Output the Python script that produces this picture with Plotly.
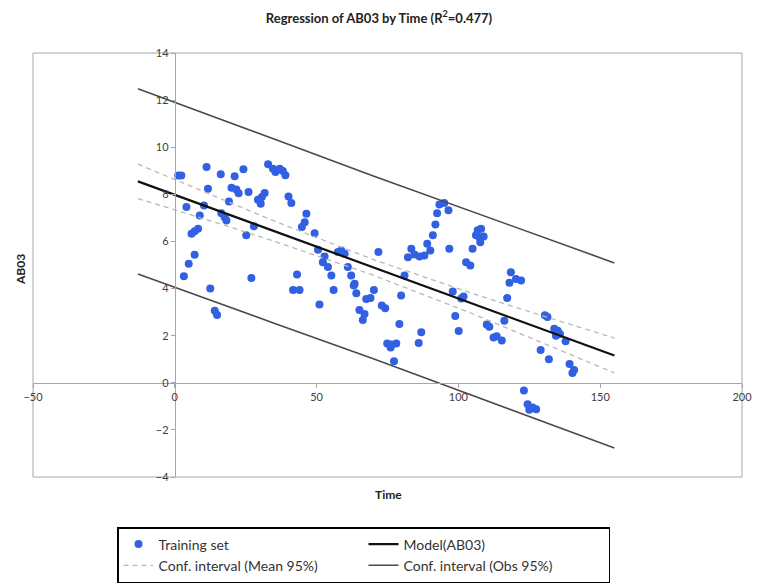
import plotly.graph_objects as go

# ---- data ----
time_vals = [1.2, 2.3, 11.2, 16.2, 21.1, 24.2, 11.7, 20.0, 21.7, 22.5, 26.0, 19.1,
             32.9, 34.6, 35.5, 37.0, 38.1, 39.0, 31.7, 30.7, 29.3, 30.3, 40.1, 41.1,
             4.1, 8.8, 10.3, 16.4, 17.6, 18.2, 8.2, 7.0, 5.9, 27.9, 25.2, 45.8, 44.8,
             46.4, 7.0, 4.9, 3.2, 27.0, 43.1, 12.5, 14.1, 14.9, 41.7, 44.0, 49.3, 50.5,
             52.8, 52.2, 54.0, 55.2, 57.5, 58.7, 59.9, 61.0, 62.2, 63.4, 71.8, 81.0,
             82.2, 83.4, 84.5, 86.3, 88.0, 90.1, 89.0, 91.0, 91.9, 92.5, 93.3, 95.0,
             96.5, 96.8, 106.8, 108.0, 106.2, 107.4, 108.9, 107.7, 105.0, 102.7, 104.2,
             118.5, 120.3, 122.1, 118.0, 117.2, 98.0, 101.0, 101.8, 98.9, 100.1, 110.0,
             110.9, 116.2, 112.4, 113.5, 115.3, 130.5, 131.4, 133.8, 135.0, 135.8, 134.4,
             137.8, 129.0, 131.9, 139.2, 140.8, 140.2, 123.1, 124.4, 126.2, 127.4, 125.0,
             51.0, 56.0, 63.1, 64.0, 67.5, 69.0, 70.2, 65.1, 66.9, 66.3, 73.0, 74.2,
             79.8, 79.2, 86.9, 86.0, 74.9, 76.5, 78.1, 76.1, 77.3]
ab03_vals = [8.8, 8.8, 9.16, 8.85, 8.77, 9.06, 8.24, 8.28, 8.2, 8.05, 8.1, 7.7,
             9.28, 9.09, 8.95, 9.09, 8.99, 8.81, 8.06, 7.89, 7.77, 7.6, 7.91, 7.63,
             7.46, 7.1, 7.53, 7.2, 7.03, 6.89, 6.54, 6.43, 6.33, 6.64, 6.26, 6.82, 6.61,
             7.18, 5.43, 5.05, 4.52, 4.45, 4.6, 4.0, 3.06, 2.88, 3.94, 3.94, 6.35, 5.65,
             5.36, 5.12, 4.91, 4.55, 5.55, 5.62, 5.48, 4.91, 4.55, 4.2, 5.55, 4.55,
             5.33, 5.69, 5.45, 5.36, 5.4, 5.62, 5.9, 6.26, 6.72, 7.2, 7.57, 7.63,
             7.32, 5.69, 6.47, 6.54, 6.26, 6.18, 6.21, 5.97, 5.69, 5.12, 4.98,
             4.69, 4.41, 4.34, 4.25, 3.6, 3.87, 3.58, 3.66, 2.83, 2.2, 2.47,
             2.38, 2.63, 1.92, 1.98, 1.79, 2.87, 2.79, 2.29, 2.21, 2.07, 2.0,
             1.76, 1.39, 1.0, 0.8, 0.54, 0.42, -0.33, -0.91, -1.05, -1.12, -1.15,
             3.32, 3.94, 4.13, 3.8, 3.56, 3.6, 3.94, 3.09, 2.92, 2.67, 3.28, 3.16,
             3.7, 2.5, 2.14, 1.69, 1.67, 1.62, 1.67, 1.5, 0.91]

curve_x = [-13, 10, 35, 70, 105, 130, 155]
model_y = [8.55, 7.54, 6.44, 4.90, 3.36, 2.26, 1.16]
mean_upper = [9.28, 8.11, 6.87, 5.23, 3.79, 2.83, 1.90]
mean_lower = [7.82, 6.97, 6.01, 4.57, 2.93, 1.69, 0.42]
obs_upper = [12.48, 11.47, 10.35, 8.78, 7.27, 6.19, 5.09]
obs_lower = [4.62, 3.61, 2.53, 1.02, -0.55, -1.67, -2.77]

x_ticks = [-50, 0, 50, 100, 150, 200]
y_ticks = [-4, -2, 0, 2, 4, 6, 8, 10, 12, 14]

FONT = "Lato"
fig = go.Figure()
fig.add_trace(go.Scatter(x=time_vals, y=ab03_vals, mode="markers", name="Training set",
                         marker=dict(color="#3160e3", size=8)))
fig.add_trace(go.Scatter(x=curve_x, y=model_y, mode="lines", name="Model(AB03)",
                         line=dict(color="#111111", width=2.2)))
fig.add_trace(go.Scatter(x=curve_x, y=mean_upper, mode="lines", name="Conf. interval (Mean 95%)",
                         line=dict(color="#b8b8b8", width=1.3, dash="5px,4px"), legendgroup="m"))
fig.add_trace(go.Scatter(x=curve_x, y=obs_upper, mode="lines", name="Conf. interval (Obs 95%)",
                         line=dict(color="#4a4a4a", width=1.6), legendgroup="o"))
fig.add_trace(go.Scatter(x=curve_x, y=mean_lower, mode="lines", showlegend=False,
                         line=dict(color="#b8b8b8", width=1.3, dash="5px,4px"), legendgroup="m"))
fig.add_trace(go.Scatter(x=curve_x, y=obs_lower, mode="lines", showlegend=False,
                         line=dict(color="#4a4a4a", width=1.6), legendgroup="o"))

axis_col = "#a6a6a6"
fig.update_layout(
    width=758, height=585,
    margin=dict(l=33, r=16, t=53, b=108, autoexpand=False),
    paper_bgcolor="white", plot_bgcolor="white",
    font=dict(family=FONT, size=11, color="#404040"),
    title=dict(text="<b>Regression of AB03 by Time (R<sup>2</sup>=0.477)</b>",
               x=0.5, xanchor="center", y=1 - 18 / 585, yanchor="middle",
               font=dict(family=FONT, size=13, color="#222222")),
    xaxis=dict(range=[-50, 200], tickvals=x_ticks, showgrid=False, zeroline=False,
               anchor="free", position=4 / 18, showline=True, linecolor=axis_col, linewidth=1,
               ticks="outside", ticklen=4, tickcolor=axis_col,
               tickfont=dict(family=FONT, size=11, color="#404040")),
    yaxis=dict(range=[-4, 14], tickvals=y_ticks, showgrid=False, zeroline=False,
               anchor="free", position=50 / 250, showline=True, linecolor=axis_col, linewidth=1,
               ticks="outside", ticklen=4, tickcolor=axis_col,
               tickfont=dict(family=FONT, size=11, color="#404040")),
    shapes=[dict(type="rect", xref="paper", yref="paper", x0=0, y0=0, x1=1, y1=1,
                 line=dict(color=axis_col, width=1), layer="below")],
    annotations=[
        dict(text="<b>Time</b>", xref="paper", yref="paper", x=(388 - 33) / 709, y=0,
             yanchor="top", yshift=-8, showarrow=False,
             font=dict(family=FONT, size=12, color="#222222")),
        dict(text="<b>AB03</b>", xref="paper", yref="paper", x=(20 - 33) / 709, y=(477 - 270) / 424,
             xanchor="center", yanchor="middle", textangle=-90, showarrow=False,
             font=dict(family=FONT, size=12, color="#222222")),
    ],
    legend=dict(orientation="h", x=(117 - 33) / 709, xanchor="left",
                y=-(527 - 477) / 424, yanchor="top",
                entrywidth=200, entrywidthmode="pixels",
                bordercolor="#000000", borderwidth=1.5, bgcolor="white",
                font=dict(family=FONT, size=14, color="#333333"),
                traceorder="normal"),
    showlegend=True,
)

fig.write_html("out.html")
